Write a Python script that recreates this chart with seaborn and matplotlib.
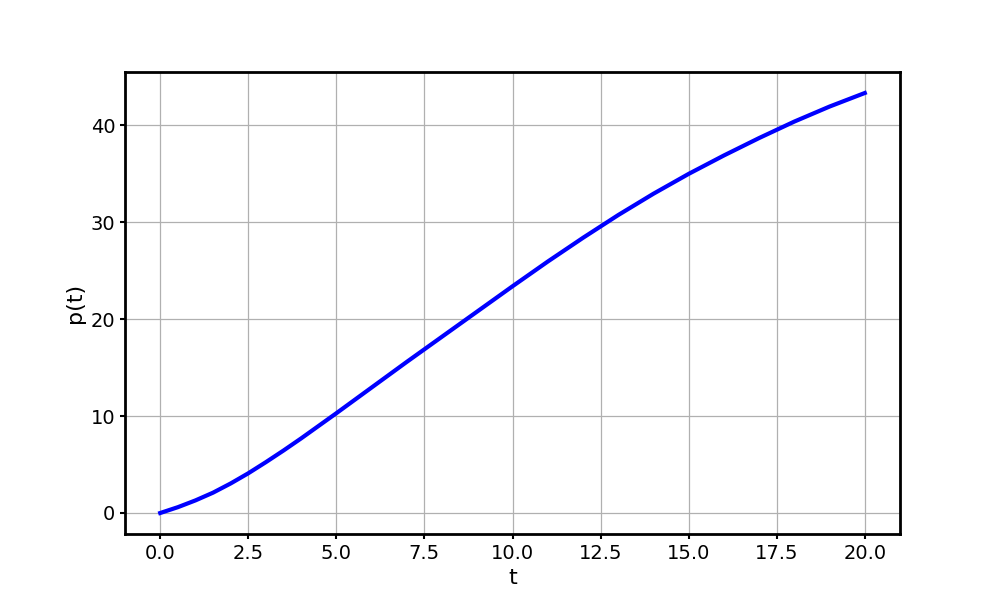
import matplotlib
matplotlib.use("Agg")
import matplotlib.pyplot as plt
import seaborn as sns
import pandas as pd

t_values = [0, 0.5, 1, 1.5, 2, 2.5, 3, 3.5, 4, 4.5, 5, 6, 7, 8, 9, 10,
            11, 12, 13, 14, 15, 16, 17, 18, 19, 20]
p_values = [0, 0.6, 1.3, 2.1, 3.05, 4.1, 5.25, 6.45, 7.7, 9.0, 10.3, 12.95, 15.6, 18.2, 20.8, 23.4,
            25.95, 28.4, 30.75, 32.95, 35.0, 36.9, 38.7, 40.4, 41.95, 43.35]

df = pd.DataFrame({"t": t_values, "p": p_values})

fig, ax = plt.subplots(figsize=(10, 6), dpi=100)
sns.lineplot(data=df, x="t", y="p", ax=ax, color="blue", linewidth=3)
ax.grid(True, color="#b0b0b0", linewidth=0.9)
ax.set_axisbelow(True)
ax.set_xlabel("t", fontsize=16)
ax.set_ylabel("p(t)", fontsize=16)
ax.tick_params(labelsize=14, width=1.5)
for s in ax.spines.values():
    s.set_linewidth(2)
fig.savefig("out.png")
